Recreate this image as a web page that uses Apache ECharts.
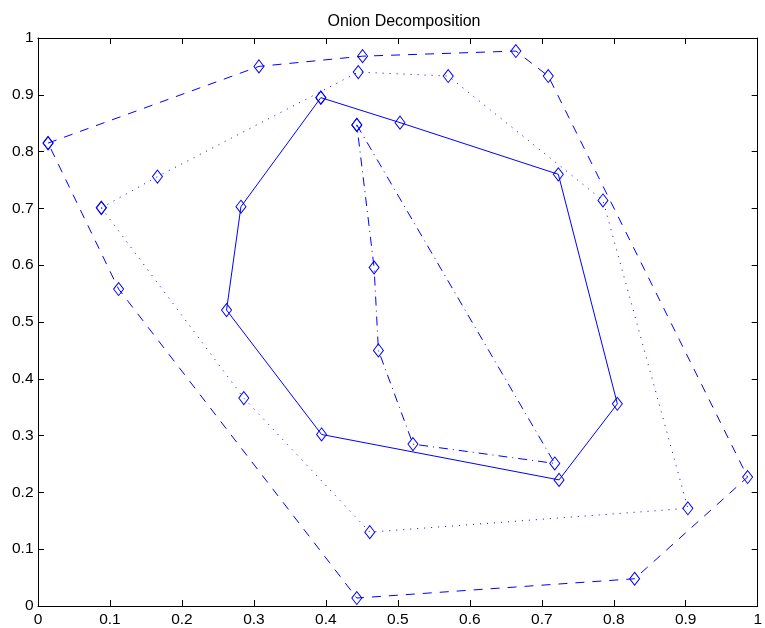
<!DOCTYPE html>
<html>
<head>
<meta charset="utf-8">
<script src="https://cdn.jsdelivr.net/npm/echarts@6/dist/echarts.min.js"></script>
<style>
html,body{margin:0;padding:0;background:#fff;}
#chart{width:765px;height:628px;}
</style>
</head>
<body>
<div id="chart"></div>
<script>
// Data (convex hull layers), closed polygons
var layer1Dashed = [
  [0.014, 0.815], [0.307, 0.950], [0.451, 0.968], [0.664, 0.977], [0.709, 0.933],
  [0.986, 0.227], [0.829, 0.048], [0.443, 0.014], [0.112, 0.558], [0.014, 0.815]
];
var layer2Dotted = [
  [0.088, 0.701], [0.166, 0.756], [0.445, 0.940], [0.570, 0.933], [0.785, 0.714],
  [0.903, 0.172], [0.461, 0.130], [0.286, 0.366], [0.088, 0.701]
];
var layer3Solid = [
  [0.393, 0.895], [0.503, 0.851], [0.723, 0.760], [0.805, 0.356], [0.724, 0.222],
  [0.394, 0.302], [0.262, 0.521], [0.282, 0.703], [0.393, 0.895]
];
var layer4DashDot = [
  [0.443, 0.847], [0.718, 0.251], [0.521, 0.285], [0.473, 0.450], [0.467, 0.596], [0.443, 0.847]
];
var xTickLabels = ['0','0.1','0.2','0.3','0.4','0.5','0.6','0.7','0.8','0.9','1'];
var yTickLabels = ['0','0.1','0.2','0.3','0.4','0.5','0.6','0.7','0.8','0.9','1'];
var titleText = 'Onion Decomposition';

var BLUE = '#0000ff';
var FONT = 'Liberation Sans, Arial, Helvetica, sans-serif';

function tickIndex(v){ return Math.round(v * 10); }

function baseAxis(pos, labels, show) {
  return {
    type: 'value', min: 0, max: 1, interval: 0.1, position: pos,
    axisLine: { show: true, onZero: false, lineStyle: { color: '#000', width: 1 } },
    axisTick: { show: true, inside: true, length: 6, lineStyle: { color: '#000', width: 1 } },
    axisLabel: {
      show: show, color: '#000', fontSize: 15.5, fontFamily: FONT,
      margin: pos === 'bottom' ? 6 : 4.5,
      formatter: function (v) { return labels[tickIndex(v)]; }
    },
    splitLine: { show: false }
  };
}

function hull(data, type) {
  return {
    type: 'line', data: data, xAxisIndex: 0, yAxisIndex: 0,
    symbol: 'diamond', symbolSize: [10, 13], showAllSymbol: true,
    lineStyle: { color: BLUE, width: 1, type: type },
    itemStyle: { color: 'rgba(0,0,0,0)', borderColor: BLUE, borderWidth: 1 },
    emphasis: { disabled: true },
    z: 3
  };
}

var chart = echarts.init(document.getElementById('chart'), null, { renderer: 'canvas' });
chart.setOption({
  animation: false,
  backgroundColor: '#fff',
  title: {
    text: titleText, left: 399, textAlign: 'center', top: 9,
    textStyle: { color: '#000', fontSize: 16, fontWeight: 'normal', fontFamily: FONT }
  },
  grid: { left: 38, right: 6, top: 38, bottom: 21, containLabel: false },
  xAxis: [baseAxis('bottom', xTickLabels, true), baseAxis('top', xTickLabels, false)],
  yAxis: [baseAxis('left', yTickLabels, true), baseAxis('right', yTickLabels, false)],
  series: [
    hull(layer1Dashed, [9, 8]),
    hull(layer2Dotted, [1, 6]),
    hull(layer3Solid, 'solid'),
    hull(layer4DashDot, [9, 5, 1, 5])
  ]
});
</script>
</body>
</html>
